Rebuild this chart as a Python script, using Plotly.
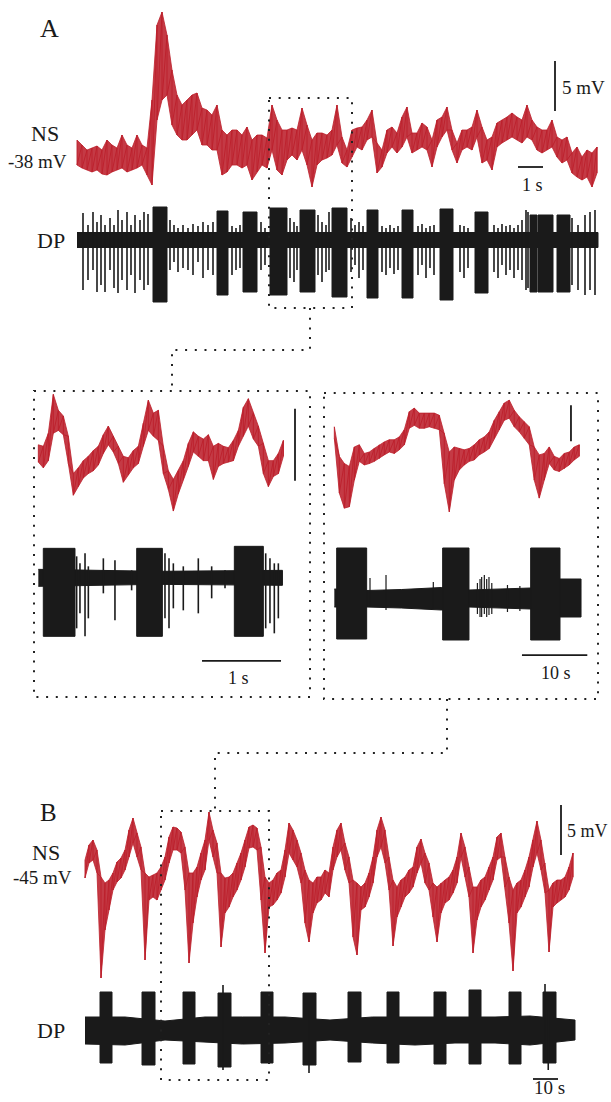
import numpy as np
import plotly.graph_objects as go

W, H = 611, 1102
RED = "#BC1F2B"
INK = "#1A1A1A"
SERIF = "Liberation Serif, Times New Roman, serif"

# ---------------- Panel A : NS membrane potential (mV), envelope every 0.2 s ----------------
ns_a_dt = 0.2
ns_a_hi = [-36.0, -36.5, -37.0, -36.8, -36.6, -37.0, -36.0, -36.5, -36.8, -35.5,
           -36.5, -36.8, -35.5, -36.5, -36.8, -32.0, -24.5, -23.2, -25.5, -29.0,
           -31.5, -32.5, -32.0, -31.5, -31.3, -32.8, -33.0, -33.5, -32.5, -35.0,
           -35.5, -35.0, -35.0, -35.5, -34.7, -36.0, -35.5, -35.5, -35.8, -32.5,
           -34.0, -35.0, -35.0, -34.8, -35.0, -32.8, -34.5, -36.0, -35.3, -35.3,
           -35.5, -35.0, -32.5, -35.7, -37.0, -35.0, -34.8, -34.7, -34.0, -33.0,
           -36.3, -37.0, -35.0, -34.7, -35.3, -33.7, -32.7, -35.3, -35.3, -34.3,
           -34.7, -36.0, -34.0, -33.7, -32.7, -35.0, -36.3, -35.0, -35.0, -34.7,
           -33.0, -34.7, -36.0, -35.7, -34.3, -34.0, -33.7, -33.3, -33.7, -34.0,
           -32.5, -34.0, -34.7, -35.0, -35.0, -34.0, -35.7, -36.0, -35.7, -37.3,
           -36.7, -37.7, -37.0, -37.3, -36.7]
ns_a_lo = [-38.5, -38.8, -39.0, -39.2, -39.0, -39.4, -39.5, -39.2, -39.0, -38.8,
           -39.2, -39.0, -38.8, -38.5, -39.5, -40.5, -34.0, -32.0, -31.5, -34.5,
           -35.5, -36.0, -36.0, -35.5, -35.0, -36.5, -36.5, -37.0, -37.0, -39.5,
           -39.2, -38.5, -38.5, -38.8, -38.5, -40.0, -39.2, -38.5, -38.8, -37.0,
           -39.0, -39.5, -38.0, -37.5, -38.0, -37.0, -38.5, -40.7, -38.5, -38.0,
           -37.8, -37.5, -36.5, -38.3, -38.7, -37.7, -36.7, -37.0, -36.0, -35.7,
           -39.3, -38.7, -37.3, -36.7, -37.3, -36.7, -35.7, -37.3, -37.0, -36.7,
           -37.0, -38.7, -36.7, -35.7, -35.0, -37.0, -38.3, -37.0, -36.7, -37.0,
           -35.7, -38.3, -38.0, -39.0, -36.7, -36.3, -36.0, -35.7, -36.0, -36.3,
           -35.7, -36.0, -37.0, -37.3, -37.0, -36.7, -37.7, -38.3, -38.0, -39.3,
           -39.7, -40.0, -39.7, -40.7, -39.3]

# ---------------- Panel A : DP extracellular (a.u.) ----------------
dp_a_base_t = [0.0, 20.84]
dp_a_base_up = [0.75, 0.75]
dp_a_base_dn = [-0.75, -0.75]
dp_a_burst_t0 = [3.04, 5.60, 6.64, 7.72, 8.92, 10.20, 11.60, 13.00, 14.52, 15.92, 18.12, 18.44, 19.20]
dp_a_burst_t1 = [3.60, 6.04, 7.20, 8.40, 9.52, 10.80, 12.04, 13.44, 15.04, 16.44, 18.40, 19.04, 19.72]
dp_a_burst_up = [3.3, 2.9, 2.8, 3.2, 3.0, 3.2, 3.0, 3.0, 3.1, 2.8, 2.5, 2.5, 2.5]
dp_a_burst_dn = [-6.2, -5.5, -5.2, -5.5, -5.2, -5.7, -5.8, -5.8, -6.0, -5.3, -5.2, -5.2, -5.2]
dp_a_spike_t = [0.24, 0.44, 0.64, 0.80, 0.96, 1.12, 1.32, 1.48, 1.64, 1.80, 2.00, 2.16, 2.32, 2.52,
                2.68, 2.84, 3.72, 3.88, 4.04, 4.24, 4.44, 4.64, 4.84, 5.04, 5.24, 5.44, 6.20, 6.36,
                6.52, 7.36, 7.52, 8.52, 8.68, 8.80, 9.64, 9.80, 9.96, 10.08, 10.96, 11.12, 11.28,
                11.44, 12.20, 12.36, 12.52, 12.68, 12.84, 13.64, 13.80, 13.96, 14.12, 14.28, 15.32,
                15.48, 15.64, 16.68, 16.84, 17.00, 17.16, 17.32, 17.48, 17.64, 17.80, 17.96, 18.04,
                19.80, 20.04, 20.32, 20.52, 20.72]
dp_a_spike_up = [2.7, 1.5, 2.8, 1.8, 2.5, 1.5, 2.2, 1.5, 3.0, 2.0, 2.8, 1.5, 2.5, 2.0,
                 2.8, 2.6, 2.0, 1.5, 1.2, 1.5, 1.2, 1.6, 1.4, 1.8, 1.5, 1.8, 1.4, 1.2,
                 1.5, 1.8, 1.2, 2.2, 1.8, 1.4, 2.5, 1.8, 1.5, 2.8, 2.2, 1.5, 1.8,
                 1.4, 1.4, 1.2, 1.5, 1.2, 1.4, 1.4, 1.6, 1.2, 1.4, 1.5, 1.5,
                 1.4, 1.2, 1.5, 1.2, 1.6, 1.4, 1.5, 1.2, 1.5, 2.0, 3.0, 2.8,
                 2.2, 1.5, 2.5, 2.8, 3.0]
dp_a_spike_dn = [-5.0, -4.0, -3.0, -5.2, -4.5, -5.2, -3.0, -4.8, -5.3, -4.0, -5.0, -3.5, -5.3, -4.0,
                 -5.0, -4.5, -3.0, -2.2, -3.2, -2.8, -3.0, -3.5, -2.2, -3.8, -3.0, -3.5, -3.5, -3.0,
                 -2.8, -3.0, -2.5, -3.8, -4.2, -3.0, -3.5, -4.2, -3.2, -3.0, -3.2, -2.5, -3.8,
                 -3.0, -3.2, -3.5, -2.8, -3.4, -3.0, -3.5, -2.5, -3.8, -2.8, -3.5, -3.2,
                 -3.8, -2.8, -3.2, -3.8, -2.5, -3.5, -3.0, -3.8, -3.0, -4.0, -5.0, -4.8,
                 -4.5, -5.0, -5.5, -5.0, -5.5]

# ---------------- Middle left (zoom of A, 3 s) ----------------
ns_l_dt = 0.0633
ns_l_hi = [-35.5, -35.6, -34.7, -32.0, -33.1, -33.5, -34.9, -37.5, -37.1, -36.6,
           -36.3, -35.9, -35.6, -34.8, -34.2, -34.9, -35.6, -36.3, -36.4, -35.9,
           -35.6, -34.0, -32.4, -33.3, -33.1, -35.6, -37.3, -37.9, -37.3, -36.6,
           -35.4, -34.6, -34.9, -35.1, -34.8, -35.6, -35.4, -35.6, -35.7, -35.2,
           -34.5, -32.9, -32.3, -33.3, -34.2, -35.4, -36.6, -36.6, -36.1, -35.2]
ns_l_lo = [-36.7, -37.1, -36.6, -34.7, -34.5, -34.8, -36.8, -39.0, -38.4, -37.8,
           -37.5, -37.3, -36.9, -36.1, -35.5, -36.0, -36.8, -38.1, -37.6, -37.1,
           -36.8, -35.6, -34.5, -34.9, -35.2, -37.5, -38.6, -40.1, -38.9, -37.9,
           -37.0, -36.0, -36.3, -36.6, -36.6, -37.9, -37.0, -36.8, -36.7, -36.6,
           -35.6, -34.9, -34.2, -35.1, -35.6, -37.5, -38.4, -37.7, -37.5, -36.3]
dp_l_base_t = [0.0, 1.5, 3.09]
dp_l_base_up = [0.9, 0.7, 0.8]
dp_l_base_dn = [-0.8, -0.6, -0.7]
dp_l_burst_t0 = [0.063, 1.245, 2.481]
dp_l_burst_t1 = [0.464, 1.570, 2.848]
dp_l_burst_up = [3.0, 3.0, 3.2]
dp_l_burst_dn = [-5.8, -5.8, -5.8]
dp_l_spike_t = [0.485, 0.527, 0.591, 0.633, 0.823, 0.970, 1.181, 1.603, 1.654, 1.709,
                1.835, 2.025, 2.194, 2.363, 2.878, 2.932, 2.987, 3.038]
dp_l_spike_up = [2.2, 1.5, 2.5, 1.2, 2.0, 1.8, 0.8, 2.5, 2.0, 1.5, 1.2, 2.0, 1.2, 0.8, 2.5, 2.0, 1.5, 1.5]
dp_l_spike_dn = [-5.0, -3.5, -5.8, -4.0, -1.5, -4.2, -1.2, -4.0, -5.0, -3.0, -3.2, -3.5, -2.0, -1.0,
                 -5.0, -4.5, -5.5, -4.0]

# ---------------- Middle right (zoom of B, ~38 s) ----------------
ns_r_dt = 0.765
ns_r_hi = [-42.5, -46.6, -47.6, -48.0, -45.3, -45.0, -46.2, -46.0, -45.5, -45.0,
           -44.6, -44.3, -44.3, -43.9, -42.9, -40.4, -39.9, -40.6, -40.6, -40.6,
           -40.6, -40.9, -43.4, -46.0, -45.3, -45.5, -45.7, -45.5, -45.0, -44.3,
           -43.9, -43.2, -41.6, -40.4, -39.2, -38.8, -40.2, -41.1, -41.8, -42.5,
           -45.3, -46.4, -46.2, -45.3, -46.6, -46.9, -46.2, -46.0, -45.3, -45.0]
ns_r_lo = [-44.1, -51.7, -53.8, -53.6, -49.9, -47.3, -47.8, -47.6, -47.3, -46.9,
           -46.4, -46.0, -46.2, -45.7, -45.0, -42.7, -42.3, -42.7, -42.7, -42.5,
           -42.7, -42.9, -50.4, -54.3, -49.9, -48.5, -47.8, -47.3, -47.1, -46.4,
           -46.0, -45.5, -44.1, -42.9, -41.6, -41.3, -42.5, -43.2, -44.1, -45.0,
           -49.9, -52.4, -49.9, -47.6, -48.5, -48.7, -48.3, -47.8, -47.1, -46.6]
dp_r_base_t = [0.0, 4.95, 10.31, 16.43, 20.61, 30.05, 34.54, 37.76]
dp_r_base_up = [1.0, 0.85, 0.95, 1.15, 0.9, 1.1, 2.0, 2.0]
dp_r_base_dn = [-0.8, -0.8, -0.9, -1.1, -0.8, -1.0, -1.8, -1.8]
dp_r_burst_t0 = [0.36, 16.58, 30.05]
dp_r_burst_t1 = [4.95, 20.61, 34.54]
dp_r_burst_up = [5.1, 5.1, 5.1]
dp_r_burst_dn = [-4.0, -4.1, -4.1]
dp_r_spike_t = [5.46, 7.91, 15.15, 21.9, 22.3, 22.55, 22.96, 23.32, 23.67, 24.1, 26.5, 28.4]
dp_r_spike_up = [2.1, 2.4, 1.7, 1.6, 2.0, 2.2, 2.4, 2.0, 2.2, 1.6, 1.4, 1.3]
dp_r_spike_dn = [-0.8, -1.1, -1.0, -1.5, -1.8, -1.8, -1.5, -1.8, -1.6, -1.5, -1.3, -1.2]

# ---------------- Panel B : NS (mV), envelope every 1.6 s ----------------
ns_b_dt = 1.6
ns_b_hi = [-43.3, -41.8, -41.3, -42.3, -45.0, -45.6, -45.3, -44.6, -43.5, -43.1,
           -42.3, -40.3, -39.1, -40.6, -42.0, -44.6, -45.0, -44.8, -44.6, -44.0,
           -43.0, -41.0, -40.0, -40.1, -40.5, -42.0, -44.6, -44.6, -44.0, -42.6,
           -41.3, -38.5, -40.3, -41.6, -44.6, -45.1, -45.0, -44.6, -43.6, -42.6,
           -41.3, -40.0, -39.8, -40.1, -42.0, -45.0, -45.6, -45.3, -44.6, -44.3,
           -42.3, -39.6, -40.3, -41.3, -42.6, -44.3, -45.3, -45.6, -45.0, -45.0,
           -44.3, -44.6, -42.0, -40.3, -39.6, -41.6, -43.0, -45.3, -45.6, -46.0,
           -45.6, -44.6, -43.0, -40.3, -39.0, -40.3, -43.0, -45.3, -46.0, -45.3,
           -45.0, -44.3, -44.0, -42.0, -41.2, -42.6, -43.6, -45.6, -46.0, -45.6,
           -45.3, -45.0, -44.3, -43.0, -40.6, -42.0, -44.0, -46.0, -46.0, -45.3,
           -45.0, -44.0, -43.0, -41.0, -40.6, -43.0, -45.0, -46.3, -45.6, -45.3,
           -44.3, -43.0, -41.3, -39.4, -41.3, -43.6, -46.3, -45.6, -45.3, -45.3,
           -45.0, -44.0, -42.6]
ns_b_lo = [-45.1, -43.6, -43.3, -44.6, -55.1, -50.3, -48.3, -46.3, -45.5, -45.1,
           -44.3, -43.0, -41.6, -43.0, -44.3, -53.3, -47.3, -47.0, -47.3, -46.3,
           -45.3, -43.6, -42.3, -42.3, -42.6, -46.3, -53.6, -49.6, -47.0, -45.3,
           -44.3, -41.3, -43.0, -44.6, -52.0, -48.6, -48.0, -47.0, -46.3, -45.3,
           -44.0, -42.1, -42.0, -42.3, -47.3, -52.6, -48.0, -47.8, -47.3, -46.6,
           -45.0, -42.6, -43.3, -44.0, -45.6, -49.6, -51.5, -48.6, -47.6, -47.3,
           -46.6, -47.0, -44.3, -43.0, -42.3, -44.3, -45.6, -51.0, -52.8, -48.3,
           -48.0, -47.0, -45.6, -43.0, -42.0, -43.6, -46.3, -51.9, -49.0, -48.0,
           -47.0, -46.6, -46.0, -44.6, -43.6, -45.6, -46.3, -49.0, -51.5, -48.6,
           -47.6, -47.3, -46.6, -45.6, -43.0, -45.0, -47.0, -52.6, -49.3, -48.0,
           -47.3, -46.3, -45.3, -43.3, -43.0, -46.0, -49.6, -54.4, -48.6, -48.0,
           -47.0, -46.0, -44.0, -42.6, -44.3, -46.6, -52.5, -48.0, -47.6, -47.3,
           -47.0, -46.3, -45.0]

# ---------------- Panel B : DP ----------------
dp_b_base_t = [0, 16, 32, 48, 63, 80, 98, 115, 132, 148, 164, 178, 196]
dp_b_base_up = [1.3, 1.3, 0.9, 1.3, 1.3, 1.3, 1.0, 1.3, 1.3, 1.3, 1.3, 1.4, 1.0]
dp_b_base_dn = [-1.4, -1.5, -1.0, -1.2, -1.4, -1.3, -1.0, -1.3, -1.5, -1.3, -1.3, -1.5, -1.0]
dp_b_burst_t0 = [6.0, 22.8, 39.2, 53.2, 70.4, 87.2, 105.2, 120.8, 139.6, 153.6, 169.6, 183.2]
dp_b_burst_t1 = [10.8, 28.0, 44.0, 58.4, 75.2, 92.4, 110.4, 125.6, 144.4, 158.4, 174.4, 188.4]
dp_b_burst_up = [3.8, 3.8, 3.8, 3.7, 3.8, 3.7, 3.8, 3.8, 3.8, 4.0, 3.8, 3.8]
dp_b_burst_dn = [-3.3, -3.5, -3.4, -3.7, -3.3, -3.5, -3.2, -3.3, -3.4, -3.4, -3.4, -3.3]
dp_b_spike_t = [55.2, 89.6, 184.0, 185.3]
dp_b_spike_up = [4.5, 2.0, 4.6, 2.0]
dp_b_spike_dn = [-4.0, -4.3, -2.0, -4.0]

# ---------------- scale bars (data units of each panel) ----------------
sb_a = dict(v_t=19.12, v_y=(-33.1, -28.1), h_t=(17.64, 18.64), h_y=-38.7)
sb_l = dict(v_t=3.249, v_y=(-38.0, -33.0), h_t=(2.072, 3.072), h_y=-50.5)
sb_r = dict(v_t=36.22, v_y=(-44.5, -39.5), h_t=(28.72, 38.72), h_y=-74.2)
sb_b = dict(v_t=190.4, v_y=(-42.8, -37.8), h_t=(179.2, 189.2), h_y=-65.2)

# ---------------- figure ----------------
fig = go.Figure()


def ns_trace(dt, hi, lo, xa, ya):
    t = np.arange(len(hi)) * dt
    tl = list(t)
    fig.add_trace(go.Scatter(x=tl + tl[::-1], y=list(hi) + list(lo)[::-1], mode="lines",
                             fill="toself", fillcolor="rgba(188,31,43,0.88)",
                             line=dict(color=RED, width=0.8), xaxis=xa, yaxis=ya,
                             hoverinfo="skip", showlegend=False))
    zx, zy = [], []
    for ti, h, l in zip(tl, hi, lo):
        zx += [ti, ti]
        zy += [h, l]
    fig.add_trace(go.Scatter(x=zx, y=zy, mode="lines", line=dict(color=RED, width=0.9),
                             xaxis=xa, yaxis=ya, hoverinfo="skip", showlegend=False))


def dp_trace(bt, bu, bd, t0, t1, up, dn, st, su, sd, xa, ya, sw=1.6):
    fig.add_trace(go.Scatter(x=list(bt) + list(bt)[::-1], y=list(bu) + list(bd)[::-1],
                             mode="lines", fill="toself", fillcolor=INK,
                             line=dict(color=INK, width=1), xaxis=xa, yaxis=ya,
                             hoverinfo="skip", showlegend=False))
    px, py = [], []
    for a, b, u, d in zip(t0, t1, up, dn):
        px += [a, a, b, b, a, None]
        py += [d, u, u, d, d, None]
    fig.add_trace(go.Scatter(x=px, y=py, mode="lines", fill="toself", fillcolor=INK,
                             line=dict(color=INK, width=1), xaxis=xa, yaxis=ya,
                             hoverinfo="skip", showlegend=False))
    sx, sy = [], []
    for t, u, d in zip(st, su, sd):
        sx += [t, t, None]
        sy += [u, d, None]
    fig.add_trace(go.Scatter(x=sx, y=sy, mode="lines", line=dict(color=INK, width=sw),
                             xaxis=xa, yaxis=ya, hoverinfo="skip", showlegend=False))


def scalebar(sb, xa, ya):
    fig.add_trace(go.Scatter(x=[sb["v_t"], sb["v_t"]], y=list(sb["v_y"]), mode="lines",
                             line=dict(color=INK, width=1.8), xaxis=xa, yaxis=ya,
                             hoverinfo="skip", showlegend=False))
    fig.add_trace(go.Scatter(x=list(sb["h_t"]), y=[sb["h_y"], sb["h_y"]], mode="lines",
                             line=dict(color=INK, width=1.8), xaxis=xa, yaxis=ya,
                             hoverinfo="skip", showlegend=False))


ns_trace(ns_a_dt, ns_a_hi, ns_a_lo, "x", "y")
dp_trace(dp_a_base_t, dp_a_base_up, dp_a_base_dn, dp_a_burst_t0, dp_a_burst_t1, dp_a_burst_up,
         dp_a_burst_dn, dp_a_spike_t, dp_a_spike_up, dp_a_spike_dn, "x", "y2")
scalebar(sb_a, "x", "y")

ns_trace(ns_l_dt, ns_l_hi, ns_l_lo, "x3", "y3")
dp_trace(dp_l_base_t, dp_l_base_up, dp_l_base_dn, dp_l_burst_t0, dp_l_burst_t1, dp_l_burst_up,
         dp_l_burst_dn, dp_l_spike_t, dp_l_spike_up, dp_l_spike_dn, "x3", "y4")
scalebar(sb_l, "x3", "y3")

ns_trace(ns_r_dt, ns_r_hi, ns_r_lo, "x5", "y5")
dp_trace(dp_r_base_t, dp_r_base_up, dp_r_base_dn, dp_r_burst_t0, dp_r_burst_t1, dp_r_burst_up,
         dp_r_burst_dn, dp_r_spike_t, dp_r_spike_up, dp_r_spike_dn, "x5", "y6", sw=1.2)
scalebar(sb_r, "x5", "y5")

ns_trace(ns_b_dt, ns_b_hi, ns_b_lo, "x7", "y7")
dp_trace(dp_b_base_t, dp_b_base_up, dp_b_base_dn, dp_b_burst_t0, dp_b_burst_t1, dp_b_burst_up,
         dp_b_burst_dn, dp_b_spike_t, dp_b_spike_up, dp_b_spike_dn, "x7", "y8")
scalebar(sb_b, "x7", "y7")

# axes: every axis spans the whole page, ranges chosen so panels land in place
xr = {"": [-3.08, 21.36], "3": [-0.4852, 7.2489], "5": [-51.173, 42.347], "7": [-34.0, 210.4]}
yr = {"": [-132.2, -22.0], "2": [-86.2, 24.0], "3": [-81.139, -4.611], "4": [-52.367, 57.833],
      "5": [-136.278, 16.778], "6": [-50.3, 59.9], "7": [-67.5, 42.7], "8": [-7.2, 103.0]}
lay = {}
for k, r in xr.items():
    lay["xaxis" + k] = dict(domain=[0, 1], range=r, visible=False, fixedrange=True,
                            anchor="y" + k)
for k, r in yr.items():
    xa = {"": "x", "2": "x", "3": "x3", "4": "x3", "5": "x5", "6": "x5", "7": "x7", "8": "x7"}[k]
    lay["yaxis" + k] = dict(domain=[0, 1], range=r, visible=False, fixedrange=True, anchor=xa)


def fx(px):
    return px / W


def fy(py):
    return 1 - py / H


DOT = dict(color="#222222", width=2, dash="2px,7.7px")
shapes = []
for x0, y0, x1, y1 in [(269, 98, 352, 308), (34, 391, 310, 697), (324, 393, 598, 699),
                       (161, 811, 269, 1080)]:
    shapes.append(dict(type="rect", xref="paper", yref="paper", x0=fx(x0), x1=fx(x1),
                       y0=fy(y0), y1=fy(y1), line=DOT))
for pts in [[(310, 308), (310, 350), (172, 350), (172, 391)],
            [(447, 699), (447, 753), (215, 753), (215, 811)]]:
    path = "M " + " L ".join(f"{fx(a):.5f},{fy(b):.5f}" for a, b in pts)
    shapes.append(dict(type="path", xref="paper", yref="paper", path=path, line=DOT))

labels = [("A", 49, 29, 26), ("NS", 45, 133, 22), ("-38 mV", 37, 161, 19), ("DP", 51, 240, 22),
          ("5 mV", 583, 87, 19), ("1 s", 532, 185, 18), ("1 s", 238, 678, 18),
          ("10 s", 556, 673, 18), ("B", 48, 812, 25), ("NS", 46, 852, 22),
          ("-45 mV", 42, 877, 19), ("DP", 51, 1030, 22), ("5 mV", 587, 831, 18),
          ("10 s", 549, 1087, 19)]
annotations = [dict(text=s, x=fx(x), y=fy(y), xref="paper", yref="paper", showarrow=False,
                    xanchor="center", yanchor="middle",
                    font=dict(family=SERIF, size=sz, color=INK)) for s, x, y, sz in labels]

fig.update_layout(width=W, height=H, margin=dict(l=0, r=0, t=0, b=0),
                  paper_bgcolor="white", plot_bgcolor="rgba(0,0,0,0)",
                  showlegend=False, shapes=shapes, annotations=annotations, **lay)

fig.write_html("out.html", config={"displayModeBar": False},
               post_script="document.body.style.margin='0px';document.body.style.overflow='hidden';")
